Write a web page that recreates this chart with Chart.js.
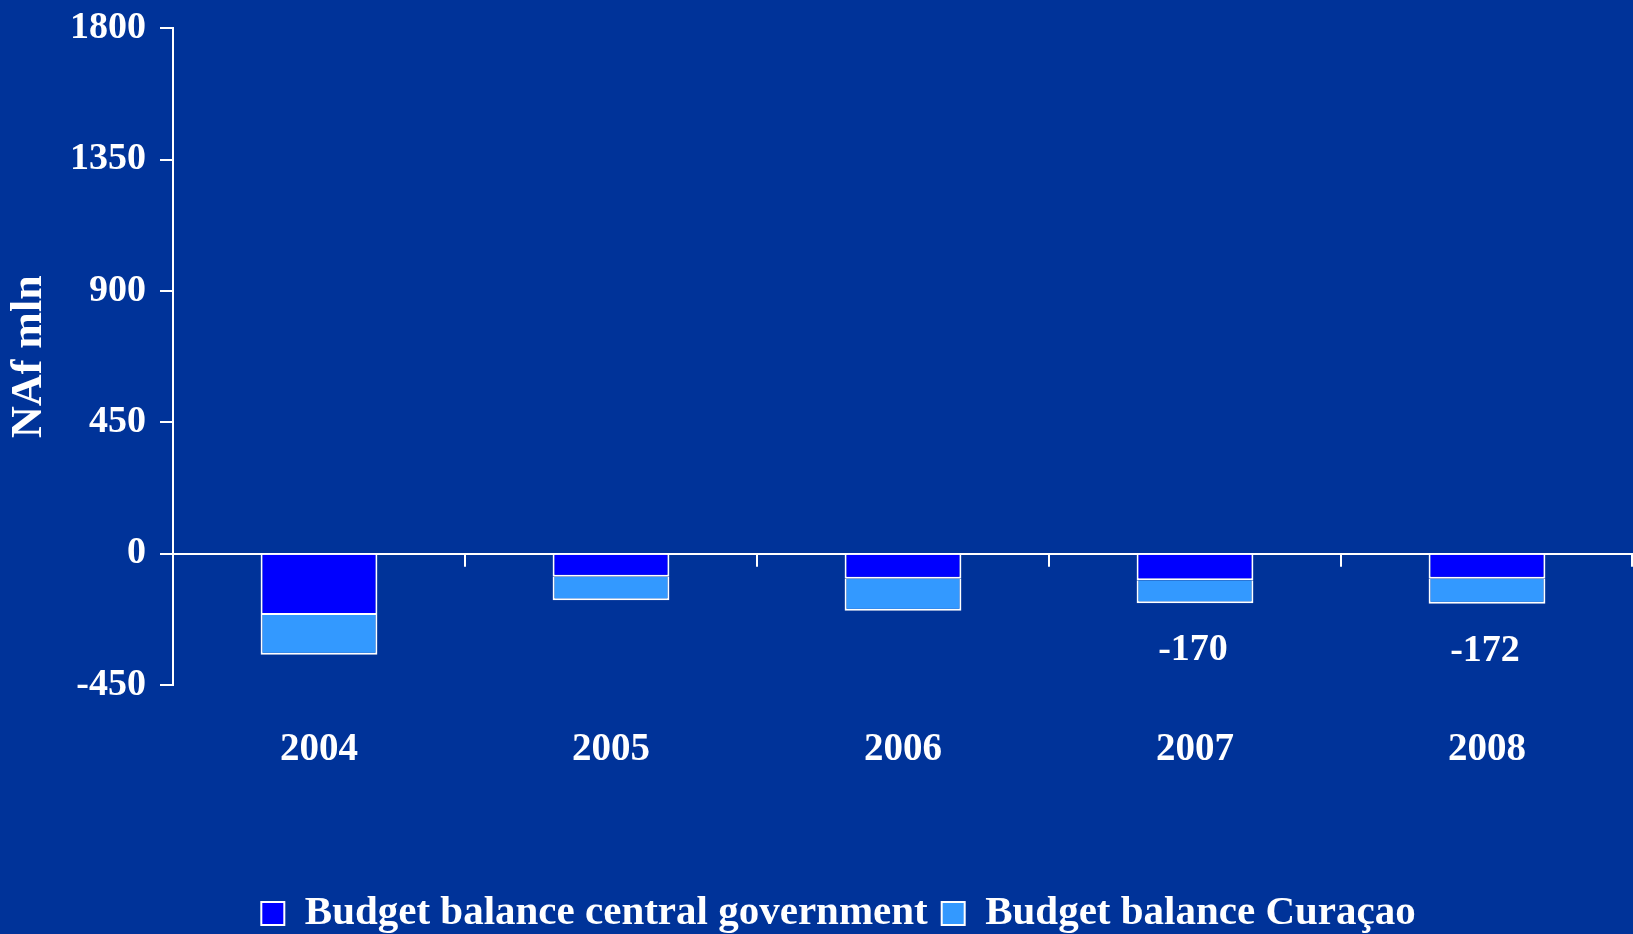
<!DOCTYPE html>
<html>
<head>
<meta charset="utf-8">
<script src="https://cdn.jsdelivr.net/npm/chart.js@4"></script>
<style>
  html, body { margin: 0; padding: 0; background: #003399; }
  canvas { display: block; }
</style>
</head>
<body>
<canvas id="canvas" width="1633" height="934"></canvas>
<script>
let years = ['2004', '2005', '2006', '2007', '2008'];
let centralGov = [-210, -79, -86, -91, -86];
let curacao = [-136, -81, -110, -79, -86];
// years that get their total written under the bar
let showTotal = [false, false, false, true, true];
let yMin = -450, yMax = 1800, yStep = 450;

let serif = "'Liberation Serif', 'Times New Roman', serif";
Chart.defaults.color = '#ffffff';
Chart.defaults.font.family = serif;

// little marks hanging off the zero line between the year groups
let zeroTicks = {
  id: 'zeroTicks',
  afterDraw(chart) {
    let x = chart.scales.x, y = chart.scales.y;
    let y0 = y.getPixelForValue(0);
    let w = x.width / years.length;
    let ctx = chart.ctx;
    ctx.save();
    ctx.strokeStyle = '#ffffff';
    ctx.lineWidth = 2;
    for (let i = 1; i <= years.length; i++) {
      let px = Math.min(x.left + i * w, chart.width - 1);
      ctx.beginPath();
      ctx.moveTo(px, y0);
      ctx.lineTo(px, y0 + 13);
      ctx.stroke();
    }
    ctx.restore();
  }
};

// totals printed below the stacked bars
let totals = {
  id: 'totals',
  afterDatasetsDraw(chart) {
    let x = chart.scales.x, y = chart.scales.y;
    let ctx = chart.ctx;
    ctx.save();
    ctx.fillStyle = '#ffffff';
    ctx.font = 'bold 38px ' + serif;
    ctx.textAlign = 'center';
    ctx.textBaseline = 'middle';
    years.forEach((yr, i) => {
      if (!showTotal[i]) return;
      let sum = centralGov[i] + curacao[i];
      ctx.fillText(String(sum), x.getPixelForValue(i) - 2, y.getPixelForValue(sum) + 47);
    });
    ctx.restore();
  }
};

// nudge the legend right of centre and a little lower
let legendShift = {
  id: 'legendShift',
  afterLayout(chart) {
    let lg = chart.legend;
    lg.left += 22;
    lg.right += 22;
    lg.top += 10;
    lg.bottom += 10;
  }
};

let options = {
  type: 'bar',
  data: {
    labels: years,
    datasets: [{
      label: 'Budget balance central government',
      data: centralGov,
      backgroundColor: '#0000ff',
      borderColor: '#ffffff',
      borderWidth: 2,
      barPercentage: 0.4,
      categoryPercentage: 1.0
    }, {
      label: 'Budget balance Curaçao',
      data: curacao,
      backgroundColor: '#3399ff',
      borderColor: '#ffffff',
      borderWidth: 2,
      barPercentage: 0.4,
      categoryPercentage: 1.0
    }]
  },
  options: {
    responsive: false,
    animation: false,
    layout: { padding: { top: 20, right: 0, bottom: 0, left: 0 } },
    scales: {
      x: {
        stacked: true,
        grid: { display: false },
        border: { display: false },
        ticks: { padding: 34, font: { size: 39, weight: 'bold' } },
        afterFit(scale) { scale.height = 184; }
      },
      y: {
        stacked: true,
        min: yMin,
        max: yMax,
        z: 1,
        border: { color: '#ffffff', width: 2 },
        grid: {
          color: ctx => ctx.tick && ctx.tick.value === 0 ? '#ffffff' : 'rgba(0,0,0,0)',
          lineWidth: 2,
          tickColor: '#ffffff',
          tickLength: 13
        },
        ticks: {
          stepSize: yStep,
          padding: 14,
          font: { size: 38, weight: 'bold', lineHeight: 0.75 },
          callback: v => String(v)
        },
        title: { display: true, text: 'NAf mln', font: { size: 44, weight: 'bold' }, padding: { top: 3, bottom: 6 } },
        afterFit(scale) { scale.width = 173; }
      }
    },
    plugins: {
      legend: {
        position: 'bottom',
        labels: { boxWidth: 23, boxHeight: 23, padding: 14, font: { size: 41, weight: 'bold' } }
      },
      tooltip: { enabled: false }
    }
  },
  plugins: [zeroTicks, totals, legendShift]
};

let chart = new Chart(document.getElementById('canvas'), options);
</script>
</body>
</html>
